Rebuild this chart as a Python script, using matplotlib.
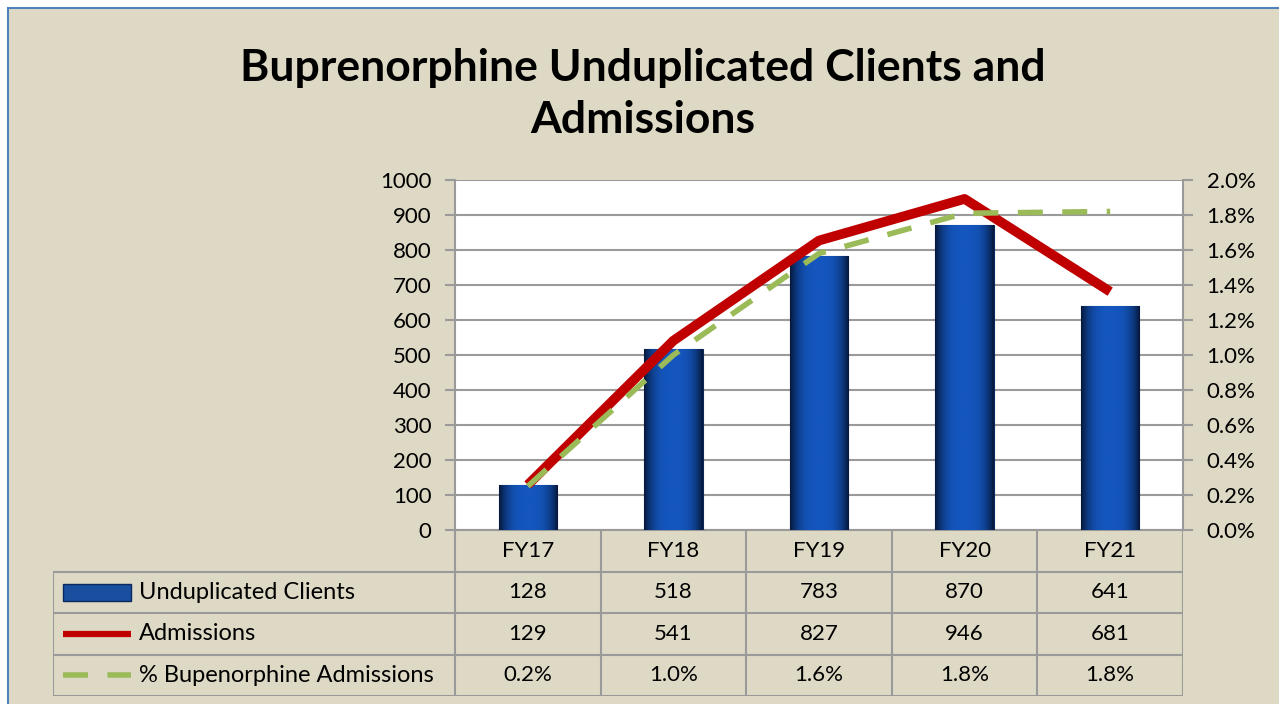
import numpy as np
import matplotlib
matplotlib.use('Agg')
import matplotlib.pyplot as plt
from matplotlib.patches import Rectangle

# chart data
years = ['FY17', 'FY18', 'FY19', 'FY20', 'FY21']
clients = [128, 518, 783, 870, 641]
admissions = [129, 541, 827, 946, 681]
pct_bup = [0.25, 1.0, 1.58, 1.81, 1.82]
pct_labels = ['0.2%', '1.0%', '1.6%', '1.8%', '1.8%']
series_names = ['Unduplicated Clients', 'Admissions', '% Bupenorphine Admissions']

W, H = 1279, 704
BG = '#DDD9C4'
GRID = '#9A9A9A'
BLUE = '#1456BE'
RED = '#C00000'
GREEN = '#9BBB59'
FS = 16

plt.rcParams['font.family'] = ['Lato', 'DejaVu Sans']

fig = plt.figure(figsize=(W / 100, H / 100), dpi=100)
fig.patch.set_facecolor('white')
fig.patches.append(Rectangle((8 / W, -0.01), 1.0, 1 - 8 / H + 0.01, transform=fig.transFigure,
                             facecolor=BG, edgecolor='#4F81BD', linewidth=1.5, zorder=-10))


def px(x0, y0, x1, y1):
    # pixel box (top-left origin) -> figure axes rect
    return [x0 / W, 1 - y1 / H, (x1 - x0) / W, (y1 - y0) / H]


ax = fig.add_axes(px(455, 180, 1183, 530))
ax.set_facecolor('white')
x = np.arange(len(years))

bars = ax.bar(x, clients, width=0.4, color=BLUE, edgecolor='#0A2A5E', linewidth=0.8, zorder=3)
# bevel-like shading on each bar
grad = np.linspace(-1, 1, 60)
shade = np.abs(grad) ** 3
img = np.tile(shade, (2, 1))
cmap = matplotlib.colors.LinearSegmentedColormap.from_list('bev', ['#1456BE', '#06193D'])
for b in bars:
    im = ax.imshow(img, cmap=cmap, aspect='auto', zorder=3.5,
                   extent=[b.get_x(), b.get_x() + b.get_width(), 0, b.get_height()])
    im.set_clip_path(b)

ax.plot(x, admissions, color=RED, linewidth=7, solid_capstyle='butt', zorder=5)

ax.set_xlim(-0.5, len(years) - 0.5)
ax.set_ylim(0, 1000)
ax.set_yticks(range(0, 1001, 100))
ax.set_xticks([])
ax.yaxis.grid(True, color=GRID, linewidth=1.5, zorder=0)
ax.set_axisbelow(True)
for s in ['top', 'right']:
    ax.spines[s].set_visible(False)
for s in ['left', 'bottom']:
    ax.spines[s].set_color(GRID)
    ax.spines[s].set_linewidth(1.5)
ax.tick_params(axis='y', length=7, width=1.5, color=GRID, labelsize=FS, pad=10)

ax2 = ax.twinx()
ax2.plot(x, pct_bup, color=GREEN, linewidth=4, dashes=(4.5, 3.5), zorder=6)
ax2.set_ylim(0, 2.0)
ax2.set_yticks(np.arange(0, 2.01, 0.2))
ax2.set_yticklabels([f'{v:.1f}%' for v in np.arange(0, 2.01, 0.2)])
for s in ['top', 'left', 'bottom']:
    ax2.spines[s].set_visible(False)
ax2.spines['right'].set_color(GRID)
ax2.spines['right'].set_linewidth(1.5)
ax2.tick_params(axis='y', length=7, width=1.5, color=GRID, labelsize=FS, pad=10)

# data table below the plot
lab_w = (455 - 53) / ((1183 - 455) / len(years))
tax = fig.add_axes(px(53, 530, 1183, 696))
tax.set_xlim(-0.5 - lab_w, len(years) - 0.5)
tax.set_ylim(0, 4)
tax.axis('off')
lk = dict(color=GRID, linewidth=1.5, solid_capstyle='projecting')
for r in [0, 1, 2, 3]:
    tax.plot([-0.5 - lab_w, len(years) - 0.5], [r, r], **lk)
tax.plot([-0.5 - lab_w, -0.5 - lab_w], [0, 3], **lk)
for k in range(len(years) + 1):
    tax.plot([k - 0.5, k - 0.5], [0, 4], **lk)

for i, yr in enumerate(years):
    tax.text(i, 3.5, yr, ha='center', va='center', fontsize=FS)
    tax.text(i, 2.5, str(clients[i]), ha='center', va='center', fontsize=FS)
    tax.text(i, 1.5, str(admissions[i]), ha='center', va='center', fontsize=FS)
    tax.text(i, 0.5, pct_labels[i], ha='center', va='center', fontsize=FS)

sx0 = -0.5 - lab_w + 10 / 145.6
sx1 = -0.5 - lab_w + 78 / 145.6
tax.add_patch(Rectangle((sx0, 2.3), sx1 - sx0, 0.4, facecolor='#1A4E9E', edgecolor='#0A2A5E', linewidth=1))
tax.plot([sx0, sx1], [1.5, 1.5], color=RED, linewidth=4.5, solid_capstyle='butt')
tax.plot([sx0, sx1], [0.5, 0.5], color=GREEN, linewidth=4, dashes=(4.5, 3.5))
tx = -0.5 - lab_w + 86 / 145.6
for r, name in zip([2.5, 1.5, 0.5], series_names):
    tax.text(tx, r, name, ha='left', va='center', fontsize=17)

fig.text(643 / W, 1 - 94 / H, 'Buprenorphine Unduplicated Clients and\nAdmissions',
         ha='center', va='center', fontsize=32, fontweight='bold', linespacing=1.35)

fig.savefig('out.png', dpi=100, facecolor=fig.get_facecolor())
